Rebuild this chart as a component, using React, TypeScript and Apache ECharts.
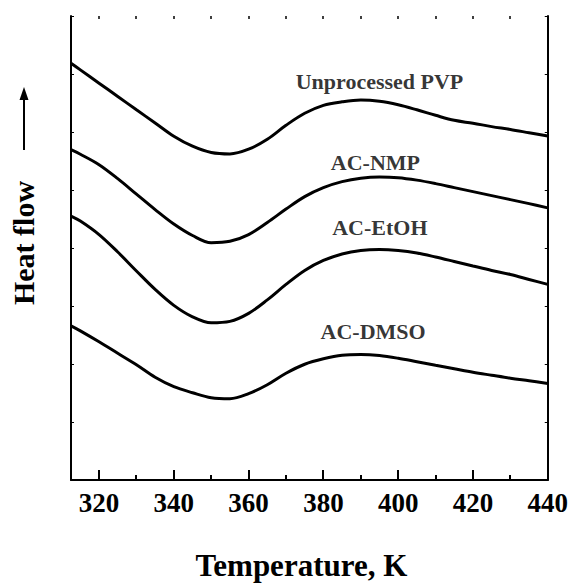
import React, { useEffect, useRef } from "react";
import * as echarts from "echarts";

const temps = [312.5, 315, 320, 325, 330, 335, 340, 345, 350, 355, 360, 365, 370, 375, 380, 385, 390, 395, 400, 405, 410, 415, 420, 425, 430, 435, 440];
const unprocessed = [7.186, 7.071, 6.842, 6.613, 6.383, 6.156, 5.927, 5.755, 5.647, 5.622, 5.703, 5.875, 6.116, 6.323, 6.460, 6.520, 6.550, 6.529, 6.469, 6.383, 6.288, 6.201, 6.151, 6.093, 6.044, 5.987, 5.930];
const acNmp = [5.695, 5.617, 5.437, 5.196, 4.929, 4.662, 4.413, 4.215, 4.091, 4.115, 4.232, 4.439, 4.671, 4.886, 5.041, 5.144, 5.204, 5.225, 5.213, 5.170, 5.110, 5.041, 4.972, 4.903, 4.834, 4.765, 4.692];
const acEtoh = [4.551, 4.465, 4.232, 3.931, 3.604, 3.286, 3.011, 2.813, 2.710, 2.735, 2.873, 3.105, 3.372, 3.613, 3.785, 3.897, 3.957, 3.974, 3.957, 3.914, 3.845, 3.768, 3.690, 3.613, 3.544, 3.458, 3.372];
const acDmso = [2.658, 2.572, 2.383, 2.185, 1.987, 1.772, 1.609, 1.505, 1.419, 1.402, 1.488, 1.643, 1.841, 1.996, 2.090, 2.151, 2.163, 2.145, 2.099, 2.039, 1.978, 1.918, 1.858, 1.806, 1.755, 1.710, 1.664];

const seriesNames = ["Unprocessed PVP", "AC-NMP", "AC-EtOH", "AC-DMSO"];
const labelPositions: [number, number][] = [
  [395, 6.865],
  [393.9, 5.48],
  [395.1, 4.353],
  [393.3, 2.563],
];

const majorTicks = [320, 340, 360, 380, 400, 420, 440];
const minorTicks = [330, 350, 370, 390, 410, 430];
const topTicks = [320, 330, 340, 350, 360, 370, 380, 390, 400, 410, 420, 430];
const yMin = 0;
const yMax = 8;

const FONT = "'Liberation Serif', 'Times New Roman', serif";

function tickSeries(name: string, ticks: number[], atY: number, dir: number, len: number, width: number) {
  return {
    name,
    type: "custom",
    z: 10,
    data: ticks.map((t) => [t, atY]),
    renderItem: (_params: any, api: any) => {
      const p = api.coord([api.value(0), api.value(1)]);
      const x = Math.round(p[0]);
      const y = Math.round(p[1]);
      return {
        type: "line",
        shape: { x1: x, y1: y, x2: x, y2: y + dir * len },
        style: { stroke: "#000", lineWidth: width },
      };
    },
  };
}

export default function App() {
  const ref = useRef<HTMLDivElement>(null);
  useEffect(() => {
    if (!ref.current) return;
    const chart = echarts.init(ref.current, undefined, { renderer: "svg" });
    const values = [unprocessed, acNmp, acEtoh, acDmso];
    const lineSeries = values.map((vals, i) => ({
      name: seriesNames[i],
      type: "line",
      data: temps.map((t, j) => [t, vals[j]]),
      smooth: 0.35,
      showSymbol: false,
      symbol: "none",
      lineStyle: { color: "#000", width: 3 },
      itemStyle: { color: "#000" },
    }));
    const axisLineStyle = { color: "#000", width: 2 };
    chart.setOption({
      animation: false,
      backgroundColor: "#fff",
      grid: { left: 70, top: 16, right: 23, bottom: 105 },
      xAxis: [
        {
          type: "value",
          position: "bottom",
          min: 312.5,
          max: 440,
          axisLine: { show: true, lineStyle: axisLineStyle },
          axisTick: { show: false },
          axisLabel: {
            show: true,
            customValues: majorTicks,
            fontSize: 27,
            fontWeight: "bold",
            fontFamily: FONT,
            color: "#000",
            margin: 9,
          },
          splitLine: { show: false },
          name: "Temperature, K",
          nameLocation: "middle",
          nameGap: 70,
          nameTextStyle: {
            fontSize: 31,
            fontWeight: "bold",
            fontFamily: FONT,
            color: "#000",
            padding: [0, 16, 0, 0],
          },
        },
      ],
      yAxis: [
        {
          type: "value",
          position: "left",
          min: yMin,
          max: yMax,
          interval: 1,
          axisLine: { show: true, lineStyle: axisLineStyle },
          axisTick: { show: true, inside: true, length: 3, lineStyle: { color: "#000", width: 1 } },
          axisLabel: { show: false },
          splitLine: { show: false },
          name: "Heat flow",
          nameLocation: "middle",
          nameGap: 33,
          nameRotate: 90,
          nameTextStyle: {
            fontSize: 30,
            fontWeight: "bold",
            fontFamily: FONT,
            color: "#000",
            padding: [0, 0, 0, 10],
          },
        },
        {
          type: "value",
          position: "right",
          min: yMin,
          max: yMax,
          interval: 1,
          axisLine: { show: true, lineStyle: axisLineStyle },
          axisTick: { show: true, inside: true, length: 3, lineStyle: { color: "#000", width: 1 } },
          axisLabel: { show: false },
          splitLine: { show: false },
        },
      ],
      series: [
        ...lineSeries,
        tickSeries("major ticks", majorTicks, yMin, -1, 10, 2),
        tickSeries("minor ticks", minorTicks, yMin, -1, 5, 2),
        tickSeries("top ticks", topTicks, yMax, 1, 3, 1.5),
        {
          name: "labels",
          type: "scatter",
          symbolSize: 0,
          data: labelPositions.map((p, i) => ({ value: p, name: seriesNames[i] })),
          label: {
            show: true,
            position: "inside",
            formatter: (p: any) => p.name,
            fontSize: 22,
            fontWeight: "bold",
            fontFamily: FONT,
            color: "#000",
          },
        },
      ],
      graphic: [
        {
          type: "line",
          shape: { x1: 24, y1: 150, x2: 24, y2: 98 },
          style: { stroke: "#000", lineWidth: 2 },
        },
        {
          type: "polygon",
          shape: { points: [[24, 87], [19.5, 100], [28.5, 100]] },
          style: { fill: "#000" },
        },
      ],
    });
    return () => chart.dispose();
  }, []);
  return <div ref={ref} style={{ width: 571, height: 586, position: "absolute", left: 0, top: 0 }} />;
}
